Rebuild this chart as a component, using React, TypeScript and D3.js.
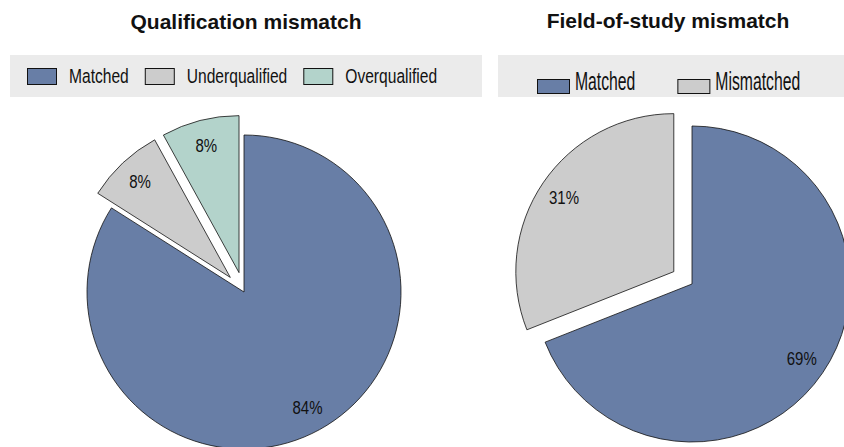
import * as d3 from "d3";
import { useEffect, useRef } from "react";

const qualCategories = ["Matched", "Underqualified", "Overqualified"];
const qualValues = [84, 8, 8];
const fieldCategories = ["Matched", "Mismatched"];
const fieldValues = [69, 31];

const colors: Record<string, string> = {
  Matched: "#687ea6",
  Underqualified: "#cccccc",
  Overqualified: "#b3d3cb",
  Mismatched: "#cccccc",
};

interface Panel {
  title: string;
  categories: string[];
  values: number[];
  explode: number[];
  cx: number;
  cy: number;
  r: number;
  titleX: number;
  titleY: number;
  bandX: number;
  bandW: number;
  legendX: number;
  legendY: number;
  swW: number;
  swH: number;
  textGap: number;
  itemGap: number;
  legendFont: number;
  legendScale: number;
  legendBase: number;
}

const panels: Panel[] = [
  {
    title: "Qualification mismatch",
    categories: qualCategories,
    values: qualValues,
    explode: [0, 20, 20],
    cx: 244,
    cy: 292,
    r: 157,
    titleX: 246,
    titleY: 29,
    bandX: 10,
    bandW: 472,
    legendX: 27,
    legendY: 68,
    swW: 29,
    swH: 16,
    textGap: 13,
    itemGap: 16,
    legendFont: 19.5,
    legendScale: 0.8,
    legendBase: 83,
  },
  {
    title: "Field-of-study mismatch",
    categories: fieldCategories,
    values: fieldValues,
    explode: [0, 22],
    cx: 692,
    cy: 284,
    r: 158,
    titleX: 668,
    titleY: 28,
    bandX: 498,
    bandW: 346,
    legendX: 537,
    legendY: 79,
    swW: 32,
    swH: 14,
    textGap: 6,
    itemGap: 42,
    legendFont: 25,
    legendScale: 0.63,
    legendBase: 90,
  },
];

export default function App() {
  const ref = useRef<SVGSVGElement>(null);

  useEffect(() => {
    const svg = d3.select(ref.current);
    svg.selectAll("*").remove();
    const font = "Arial, 'Liberation Sans', Helvetica, sans-serif";

    panels.forEach((p) => {
      const g = svg.append("g");

      // title
      g.append("text")
        .attr("x", p.titleX)
        .attr("y", p.titleY)
        .attr("text-anchor", "middle")
        .style("font-family", font)
        .style("font-weight", "bold")
        .style("font-size", "21px")
        .attr("fill", "#111")
        .text(p.title);

      // legend band
      g.append("rect")
        .attr("x", p.bandX)
        .attr("y", 55)
        .attr("width", p.bandW)
        .attr("height", 42)
        .attr("fill", "#ebebeb");

      let x = p.legendX;
      p.categories.forEach((c) => {
        g.append("rect")
          .attr("x", x + 0.5)
          .attr("y", p.legendY + 0.5)
          .attr("width", p.swW)
          .attr("height", p.swH)
          .attr("fill", colors[c])
          .attr("stroke", "#111")
          .attr("stroke-width", 1);
        const tx = x + p.swW + p.textGap;
        const t = g
          .append("text")
          .attr("transform", `translate(${tx},${p.legendBase}) scale(${p.legendScale},1)`)
          .style("font-family", font)
          .style("font-size", `${p.legendFont}px`)
          .attr("fill", "#111")
          .text(c);
        const w = (t.node() as SVGTextElement).getComputedTextLength() * p.legendScale;
        x = tx + w + p.itemGap;
      });

      // pie
      const pie = d3
        .pie<number>()
        .sort(null)
        .value((d) => d);
      const arcs = pie(p.values);
      const arc = d3
        .arc<d3.PieArcDatum<number>>()
        .innerRadius(0)
        .outerRadius(p.r);

      const slices = g
        .append("g")
        .attr("transform", `translate(${p.cx},${p.cy})`)
        .selectAll("g")
        .data(arcs)
        .join("g")
        .attr("transform", (d, i) => {
          const mid = (d.startAngle + d.endAngle) / 2;
          const e = p.explode[i];
          return `translate(${Math.sin(mid) * e},${-Math.cos(mid) * e})`;
        });

      slices
        .append("path")
        .attr("d", arc)
        .attr("fill", (d, i) => colors[p.categories[i]])
        .attr("stroke", "#111")
        .attr("stroke-width", 0.8)
        .attr("stroke-linejoin", "miter");

      slices
        .append("text")
        .attr("transform", (d) => {
          const mid = (d.startAngle + d.endAngle) / 2;
          const lr = p.r * 0.84;
          return `translate(${Math.sin(mid) * lr},${-Math.cos(mid) * lr}) scale(0.79,1)`;
        })
        .attr("text-anchor", "middle")
        .attr("dy", "0.36em")
        .style("font-family", font)
        .style("font-size", "19px")
        .attr("fill", "#111")
        .text((d) => `${d.data}%`);
    });

    return () => {
      svg.selectAll("*").remove();
    };
  }, []);

  return (
    <svg
      ref={ref}
      width={844}
      height={447}
      style={{ position: "absolute", left: 0, top: 0, display: "block", background: "#fff" }}
    />
  );
}
